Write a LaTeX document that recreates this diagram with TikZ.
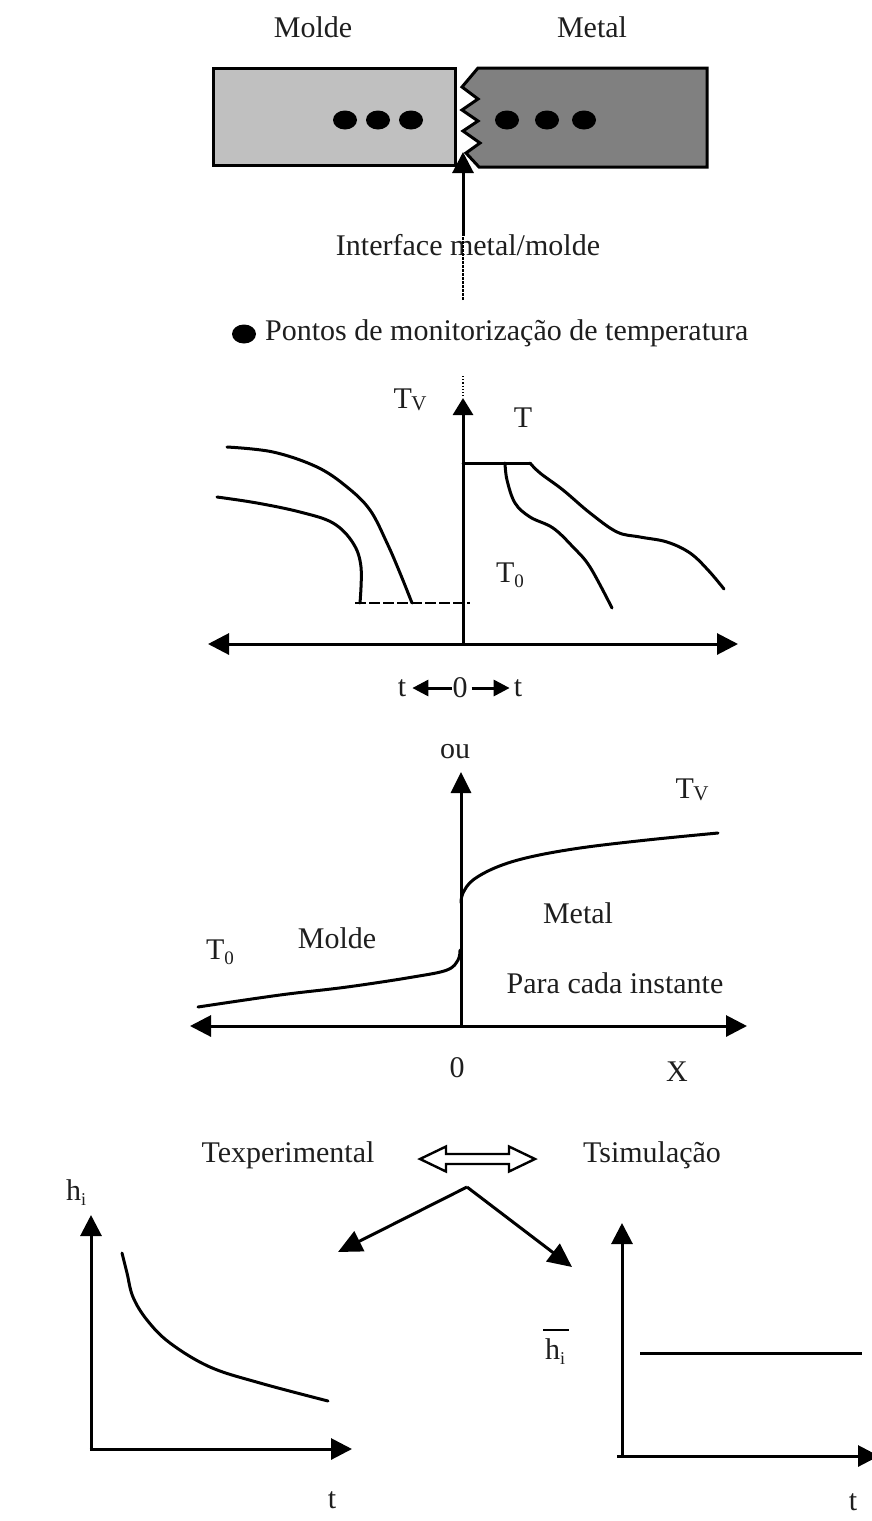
\documentclass[tikz,border=0pt]{standalone}
\usepackage{fontspec}
\setmainfont{Liberation Serif}
\usetikzlibrary{arrows.meta}
\definecolor{moldgray}{RGB}{192,192,192}
\definecolor{metalgray}{RGB}{128,128,128}
\definecolor{txt}{RGB}{30,30,30}
\newcommand{\myTV}{T\kern-0.5pt\raisebox{-2pt}{\fontsize{21}{21}\selectfont V}}
\newcommand{\myTz}{T\raisebox{-5pt}{\fontsize{19}{19}\selectfont 0}}
\newcommand{\myhi}{h\raisebox{-5pt}{\fontsize{18}{18}\selectfont i}}
\begin{document}
\begin{tikzpicture}[x=1pt,y=-1pt,
  lbl/.style={inner sep=0pt, text=txt, font=\fontsize{30}{35}\selectfont},
  ln/.style={line width=3pt, line cap=round, line join=round},
  ax/.style={line width=3pt},
  tipone/.style={-{Triangle[length=21pt,width=21pt]}},
  tipboth/.style={{Triangle[length=21pt,width=21pt]}-{Triangle[length=21pt,width=21pt]}},
  tipsmall/.style={-{Triangle[length=16pt,width=16pt]}},
  blk/.style={line width=3pt, line join=miter}
]
\useasboundingbox (0,0) rectangle (871,1521);

% ---------- top: mould and metal blocks ----------
\node[lbl] (tmolde) at (313,27) {Molde};
\node[lbl] (tmetal) at (592,27) {Metal};
\draw[blk, fill=moldgray] (213,68) rectangle (455,165);
\draw[blk, fill=metalgray] (478,68) -- (707,68) -- (707,167) -- (479,167) -- (466,153) -- (480,143)
   -- (463,131) -- (478,121) -- (462,110) -- (478,99) -- (462,87) -- cycle;
\foreach \px in {345,378,411,507,547,584}
  \fill (\px,120) ellipse [x radius=12pt, y radius=9.5pt];

\node[lbl] (iface) at (468,245) {Interface metal/molde};
\coordinate (iftail) at (463,300);
\coordinate (ifmid) at (463,236);
\coordinate (iftip) at (463,152);
\draw[line width=2.6pt, dash pattern=on 3pt off 1pt] (iftail) -- (ifmid);
\draw[ax, tipone] (ifmid) -- (iftip);

\fill (244,334) ellipse [x radius=12pt, y radius=9.5pt];
\node[lbl, anchor=west] (pontos) at (265,333) {Pontos de monitorização de temperatura};

% ---------- chart 2: T versus t ----------
\coordinate (o2) at (463,644);
\coordinate (y2) at (463,398);
\coordinate (xl2) at (208,644);
\coordinate (xr2) at (738,644);
\draw[ax, tipboth] (xl2) -- (xr2);
\draw[ax, -{Triangle[length=17pt,width=20pt]}] (o2) -- (y2);
\draw[line width=1.2pt, dotted] (463,376) -- (463,398);

\draw[ln] (463,463) -- (530,463);
\draw[ln] plot[smooth, tension=0.6] coordinates {(505,463) (507,480) (515,503) (530,517) (553,528) (573,547) (590,567) (612,608)};
\draw[ln] plot[smooth, tension=0.6] coordinates {(530,463) (540,473) (563,490) (590,513) (617,532) (640,537) (667,542) (690,553) (708,570) (724,589)};
\draw[ln] plot[smooth, tension=0.6] coordinates {(227,447) (273,452) (317,467) (347,487) (370,510) (387,543) (400,573) (412,603)};
\draw[ln] plot[smooth, tension=0.6] coordinates {(217,497) (257,503) (300,512) (333,523) (353,543) (361,567) (360,603)};
\draw[line width=2.4pt, dash pattern=on 11pt off 3pt] (355,603) -- (470,603);

\node[lbl] (tv2) at (410,400) {\myTV};
\node[lbl] (tt2) at (523,418) {T};
\node[lbl] (tz2) at (510,575) {\myTz};

\node[lbl] (tl) at (402,688) {t};
\node[lbl] (zero2) at (460,688) {0};
\node[lbl] (tr) at (518,688) {t};
\draw[line width=3pt, tipsmall, shorten >=6pt] (zero2.west) -- (tl.east);
\draw[line width=3pt, tipsmall, shorten <=4pt, shorten >=4pt] (zero2.east) -- (tr.west);

% ---------- chart 3: T versus x ----------
\coordinate (o3) at (461,1026);
\coordinate (y3) at (461,772);
\coordinate (xl3) at (190,1026);
\coordinate (xr3) at (747,1026);
\draw[ax, tipboth] (xl3) -- (xr3);
\draw[ax, -{Triangle[length=21pt,width=20pt]}] (o3) -- (y3);
\draw[ln] plot[smooth, tension=0.6] coordinates {(461,903) (463,893) (473,880) (497,867) (530,857) (580,848) (647,840) (718,833)};
\draw[ln] plot[smooth, tension=0.6] coordinates {(198,1007) (280,995) (347,987) (413,977) (447,970) (458,960) (460,950)};

\node[lbl] (ou) at (455,752) {ou};
\node[lbl] (tv3) at (692,790) {\myTV};
\node[lbl] (metal3) at (578,913) {Metal};
\node[lbl] (molde3) at (337,938) {Molde};
\node[lbl] (tz3) at (220,952) {\myTz};
\node[lbl] (para) at (615,983) {Para cada instante};
\node[lbl] (zero3) at (457,1068) {0};
\node[lbl] (xx) at (677,1072) {X};

% ---------- bottom: comparison ----------
\node[lbl] (texp) at (288,1155) {Texperimental};
\node[lbl] (tsim) at (652,1155) {Tsimulação};
\draw[line width=2.4pt, fill=white, line join=miter]
  (420,1159) -- (446,1146.5) -- (446,1154) -- (509,1154) -- (509,1146.5) -- (535,1159)
  -- (509,1171.5) -- (509,1164) -- (446,1164) -- (446,1171.5) -- cycle;
\coordinate (apex) at (467,1187);
\coordinate (vl) at (338,1252);
\coordinate (vr) at (572,1267);
\draw[ax, -{Triangle[length=24pt,width=22pt]}] (apex) -- (vl);
\draw[ax, -{Triangle[length=24pt,width=22pt]}] (apex) -- (vr);

% left graph
\coordinate (o4) at (91,1449);
\coordinate (y4) at (91,1215);
\coordinate (x4) at (352,1449);
\draw[ax, tipone] (o4) -- (y4);
\draw[ax, tipone] ([xshift=-1.5pt]o4) -- (x4);
\draw[ln] plot[smooth, tension=0.6] coordinates {(122,1253) (127,1273) (133,1297) (147,1320) (170,1343) (210,1367) (260,1383) (328,1401)};
\node[lbl] (hi4) at (76,1193) {\myhi};
\node[lbl] (t4) at (332,1500) {t};

% right graph
\coordinate (o5) at (622,1456);
\coordinate (y5) at (622,1223);
\coordinate (x5s) at (617,1456);
\coordinate (x5) at (879,1456);
\draw[ax, tipone] (o5) -- (y5);
\draw[ax, tipone] (x5s) -- (x5);
\draw[line width=3pt] (640,1353) -- (862,1353);
\node[lbl] (hbar5) at (555,1352) {\myhi};
\coordinate (ovl) at (543,1330);
\coordinate (ovr) at (569,1330);
\draw[line width=2.6pt] (ovl) -- (ovr);
\node[lbl] (t5) at (853,1502) {t};
\end{tikzpicture}
\end{document}
